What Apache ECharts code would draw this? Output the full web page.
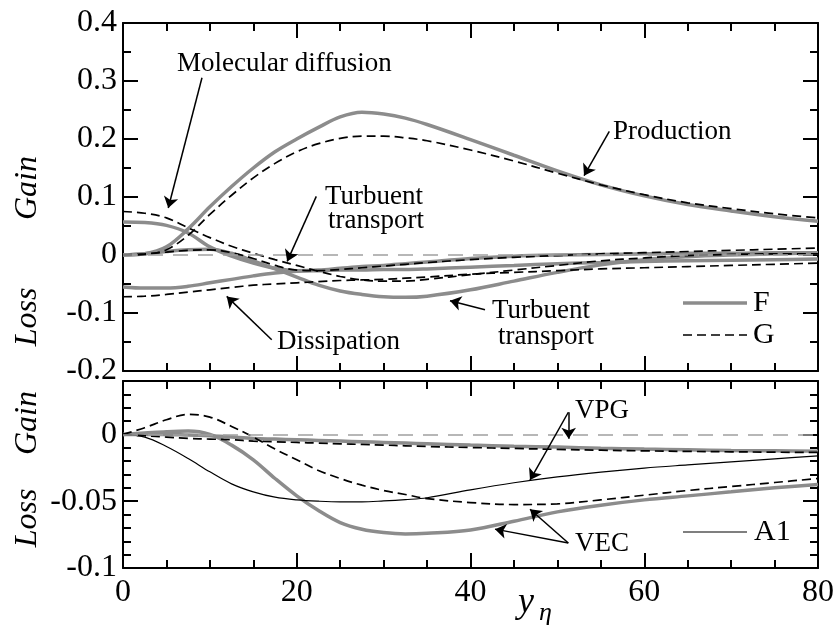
<!DOCTYPE html>
<html>
<head>
<meta charset="utf-8">
<script src="https://cdn.jsdelivr.net/npm/echarts@6/dist/echarts.min.js"></script>
<style>
html,body{margin:0;padding:0;background:#fff;}
#chart{width:839px;height:632px;}
</style>
</head>
<body>
<div id="chart"></div>
<script>
// ---------- data ----------
const xs = [0,2.5,5,7.5,10,12.5,15,17.5,20,22.5,25,27.5,30,32.5,35,40,45,50,55,60,65,70,75,80];

// top panel (F = gray solid, G = black dashed)
const prodF = [0,0.002,0.014,0.045,0.083,0.118,0.15,0.178,0.2,0.22,0.238,0.246,0.243,0.236,0.225,0.199,0.172,0.145,0.121,0.102,0.087,0.076,0.066,0.058];
const prodG = [0,0.001,0.009,0.034,0.07,0.103,0.133,0.158,0.178,0.192,0.201,0.205,0.205,0.202,0.197,0.181,0.162,0.141,0.121,0.104,0.09,0.08,0.071,0.064];
const mdF   = [0.057,0.056,0.051,0.038,0.014,-0.002,-0.014,-0.023,-0.027,-0.026,-0.023,-0.02,-0.018,-0.015,-0.012,-0.006,-0.002,0.0,0.001,0.002,0.003,0.003,0.004,0.004];
const mdG   = [0.075,0.072,0.064,0.047,0.03,0.015,0.003,-0.008,-0.018,-0.028,-0.037,-0.043,-0.045,-0.045,-0.042,-0.034,-0.026,-0.018,-0.01,-0.005,-0.001,0.001,0.002,0.002];
const ttF   = [0,0.002,0.006,0.009,0.01,0.003,-0.01,-0.024,-0.038,-0.052,-0.062,-0.068,-0.072,-0.073,-0.071,-0.06,-0.045,-0.03,-0.017,-0.008,-0.003,0.0,0.002,0.004];
const ttG   = [0,0.002,0.005,0.008,0.009,0.004,-0.006,-0.018,-0.026,-0.027,-0.025,-0.022,-0.019,-0.016,-0.013,-0.008,-0.004,-0.001,0.002,0.004,0.006,0.008,0.01,0.012];
const dissF = [-0.055,-0.057,-0.057,-0.054,-0.048,-0.042,-0.036,-0.031,-0.028,-0.027,-0.026,-0.026,-0.025,-0.025,-0.024,-0.021,-0.018,-0.015,-0.013,-0.011,-0.01,-0.009,-0.008,-0.007];
const dissG = [-0.072,-0.071,-0.068,-0.064,-0.06,-0.056,-0.052,-0.05,-0.048,-0.046,-0.044,-0.043,-0.042,-0.04,-0.038,-0.033,-0.03,-0.027,-0.024,-0.022,-0.02,-0.018,-0.016,-0.014];

// bottom panel
const vecF = [0,0.001,0.002,0.0025,0.0,-0.008,-0.019,-0.033,-0.046,-0.057,-0.066,-0.071,-0.0735,-0.0745,-0.074,-0.0715,-0.065,-0.058,-0.053,-0.049,-0.046,-0.043,-0.04,-0.0375];
const vecG = [0,0.005,0.011,0.015,0.013,0.006,-0.002,-0.011,-0.019,-0.027,-0.033,-0.038,-0.042,-0.045,-0.048,-0.051,-0.0525,-0.052,-0.049,-0.0455,-0.042,-0.039,-0.036,-0.033];
const vpgF = [0,0,0,-0.0005,-0.001,-0.002,-0.003,-0.0035,-0.004,-0.0045,-0.005,-0.0055,-0.006,-0.0065,-0.007,-0.008,-0.0088,-0.0095,-0.0103,-0.011,-0.0115,-0.012,-0.0123,-0.0125];
const vpgG = [0,-0.001,-0.002,-0.003,-0.0035,-0.004,-0.005,-0.0055,-0.006,-0.0065,-0.007,-0.0075,-0.008,-0.0085,-0.009,-0.0098,-0.0105,-0.0112,-0.0118,-0.0123,-0.0127,-0.013,-0.0133,-0.0135];
const a1   = [0,-0.002,-0.009,-0.018,-0.028,-0.037,-0.043,-0.047,-0.049,-0.05,-0.0505,-0.0505,-0.0498,-0.0488,-0.0474,-0.0415,-0.0362,-0.0318,-0.0282,-0.0252,-0.0228,-0.0205,-0.0183,-0.0161];

// axes ticks
const xTicks = [0,20,40,60,80];
const topYLabels = [-0.2,-0.1,0,0.1,0.2,0.3,0.4];
const botYLabels = [-0.1,-0.05,0];

// annotation arrows in data coordinates [from, to]
const topArrows = [
  [[9.09,0.3057],[5.21,0.081]],
  [[55.98,0.2131],[53.07,0.1367]],
  [[22.25,0.101],[18.9,-0.011]],
  [[17.12,-0.146],[11.94,-0.0714]],
  [[41.67,-0.0943],[37.64,-0.0788]]
];
const botArrows = [
  [[51.26,0.0166],[46.85,-0.0342]],
  [[51.3,0.0166],[51.3,-0.0032]],
  [[51.26,-0.0813],[42.82,-0.0709]],
  [[51.26,-0.0813],[46.85,-0.056]]
];

// ---------- chart ----------
const SERIF = '"Liberation Serif","Times New Roman",serif';
const GRAY = '#8c8c8c';
const chart = echarts.init(document.getElementById('chart'), null, {renderer:'canvas'});
function pts(arr){ return xs.map((x,i)=>[x,arr[i]]); }

function fSeries(arr, xi, yi){
  return {type:'line', name:'F', data:pts(arr), xAxisIndex:xi, yAxisIndex:yi, symbol:'none', smooth:0.35,
    color:GRAY, lineStyle:{color:GRAY, width:3.5}, z:2, silent:true};
}
function gSeries(arr, xi, yi){
  return {type:'line', name:'G', data:pts(arr), xAxisIndex:xi, yAxisIndex:yi, symbol:'none', smooth:0.35,
    color:'#000', lineStyle:{color:'#000', width:1.7, type:[9,5]}, z:3, silent:true};
}
function annotSeries(arrows, xi, yi){
  const data = [
    [{xAxis:0, yAxis:0, symbol:'none', lineStyle:{color:'#a0a0a0', width:1.6, type:[15,10]}}, {xAxis:80, yAxis:0, symbol:'none'}]
  ];
  arrows.forEach(a=>{
    data.push([{coord:a[0], symbol:'none', lineStyle:{color:'#000', width:1.5, type:'solid'}}, {coord:a[1], symbol:'arrow', symbolSize:11}]);
  });
  return {type:'line', name:'', data:[[0,0]], xAxisIndex:xi, yAxisIndex:yi, symbol:'none', lineStyle:{opacity:0}, z:1, silent:true,
    markLine:{silent:true, symbol:['none','none'], symbolSize:11, label:{show:false}, itemStyle:{color:'#000'}, emphasis:{disabled:true}, animation:false, data:data}};
}

function xAxisDef(grid, pos, showLabel){
  return {type:'value', gridIndex:grid, position:pos, min:0, max:80, interval:20,
    axisLine:{show:true, onZero:false, lineStyle:{color:'#000', width:2}},
    axisTick:{show:true, inside:true, length:15, lineStyle:{color:'#000', width:2}},
    minorTick:{show:true, splitNumber:4, length:8, lineStyle:{color:'#000', width:2}},
    splitLine:{show:false}, minorSplitLine:{show:false},
    axisLabel:{show:showLabel, margin:9, color:'#000', fontFamily:SERIF, fontSize:32,
      formatter:v=> xTicks.includes(Math.round(v)) ? String(Math.round(v)) : ''}};
}
function yAxisDef(grid, pos, min, max, interval, tickLen, minorSplit, labels, showLine){
  return {type:'value', gridIndex:grid, position:pos, min:min, max:max, interval:interval,
    axisLine:{show:showLine, onZero:false, lineStyle:{color:'#000', width:2}},
    axisTick:{show:true, inside:true, length:tickLen, lineStyle:{color:'#000', width:2}},
    minorTick:{show:minorSplit>0, splitNumber:minorSplit||1, length:8, lineStyle:{color:'#000', width:2}},
    splitLine:{show:false}, minorSplitLine:{show:false},
    axisLabel:{show:!!labels, margin:6, color:'#000', fontFamily:SERIF, fontSize:32,
      formatter:v=>{ const r=Math.round(v*1000)/1000; if(!labels) return ''; const hit=labels.find(l=>Math.abs(l-r)<1e-9); return hit===undefined?'':(hit===0?'0':String(hit)); }}};
}

function txt(s, x, y, font, extra){
  return Object.assign({type:'text', x:x, y:y, silent:true,
    style:{text:s, font:font, fill:'#000', textVerticalAlign:'middle'}}, extra||{});
}
const ANN = '27px '+SERIF;
const TITLE = 'italic 32px '+SERIF;

const option = {
  animation:false,
  backgroundColor:'#fff',
  grid:[
    {left:123, top:23, width:695, height:348},
    {left:123, top:381, width:695, height:187}
  ],
  xAxis:[
    xAxisDef(0,'bottom',false),
    xAxisDef(0,'top',false),
    xAxisDef(1,'bottom',true),
    xAxisDef(1,'top',false)
  ],
  yAxis:[
    yAxisDef(0,'left',-0.2,0.4,0.1,15,2,topYLabels,true),
    yAxisDef(0,'right',-0.2,0.4,0.1,15,2,null,true),
    yAxisDef(1,'left',-0.1,0.04,0.01,8,0,null,true),
    yAxisDef(1,'left',-0.1,0.04,0.05,15,0,botYLabels,false),
    yAxisDef(1,'right',-0.1,0.04,0.01,8,0,null,true),
    yAxisDef(1,'right',-0.1,0.04,0.05,15,0,null,false)
  ],
  series:[
    annotSeries(topArrows,0,0),
    fSeries(prodF,0,0), fSeries(mdF,0,0), fSeries(ttF,0,0), fSeries(dissF,0,0),
    gSeries(prodG,0,0), gSeries(mdG,0,0), gSeries(ttG,0,0), gSeries(dissG,0,0),
    annotSeries(botArrows,2,2),
    fSeries(vecF,2,2), fSeries(vpgF,2,2),
    gSeries(vecG,2,2), gSeries(vpgG,2,2),
    {type:'line', name:'A1', data:pts(a1), xAxisIndex:2, yAxisIndex:2, symbol:'none', smooth:0.35,
      color:'#000', lineStyle:{color:'#000', width:1.2}, z:3, silent:true}
  ],
  graphic:[
    txt('Molecular diffusion',177,64,ANN),
    txt('Production',613,132,ANN),
    txt('Turbuent',325,197,ANN),
    txt('transport',328,221,ANN),
    txt('Dissipation',277,342,ANN),
    txt('Turbuent',492,311,ANN),
    txt('transport',498,337,ANN),
    txt('VPG',575,411,ANN),
    txt('VEC',575,544,ANN),
    {type:'text', x:28, y:188, rotation:Math.PI/2, silent:true, style:{text:'Gain', font:TITLE, fill:'#000', textAlign:'center', textVerticalAlign:'middle'}},
    {type:'text', x:28, y:317, rotation:Math.PI/2, silent:true, style:{text:'Loss', font:TITLE, fill:'#000', textAlign:'center', textVerticalAlign:'middle'}},
    {type:'text', x:28, y:423, rotation:Math.PI/2, silent:true, style:{text:'Gain', font:TITLE, fill:'#000', textAlign:'center', textVerticalAlign:'middle'}},
    {type:'text', x:28, y:518, rotation:Math.PI/2, silent:true, style:{text:'Loss', font:TITLE, fill:'#000', textAlign:'center', textVerticalAlign:'middle'}},
    txt('y',518,603,'italic 36px '+SERIF),
    txt('η',539,613,'italic 26px '+SERIF),
    // legends
    {type:'line', silent:true, shape:{x1:683,y1:303,x2:747,y2:303}, style:{stroke:GRAY, lineWidth:3.5}},
    txt('F',753,303,'30px '+SERIF),
    {type:'line', silent:true, shape:{x1:683,y1:335,x2:747,y2:335}, style:{stroke:'#000', lineWidth:1.7, lineDash:[9,5]}},
    txt('G',753,335,'30px '+SERIF),
    {type:'line', silent:true, shape:{x1:683,y1:532,x2:747,y2:532}, style:{stroke:'#000', lineWidth:1.2}},
    txt('A1',754,532,'30px '+SERIF)
  ]
};
chart.setOption(option);
</script>
</body>
</html>
